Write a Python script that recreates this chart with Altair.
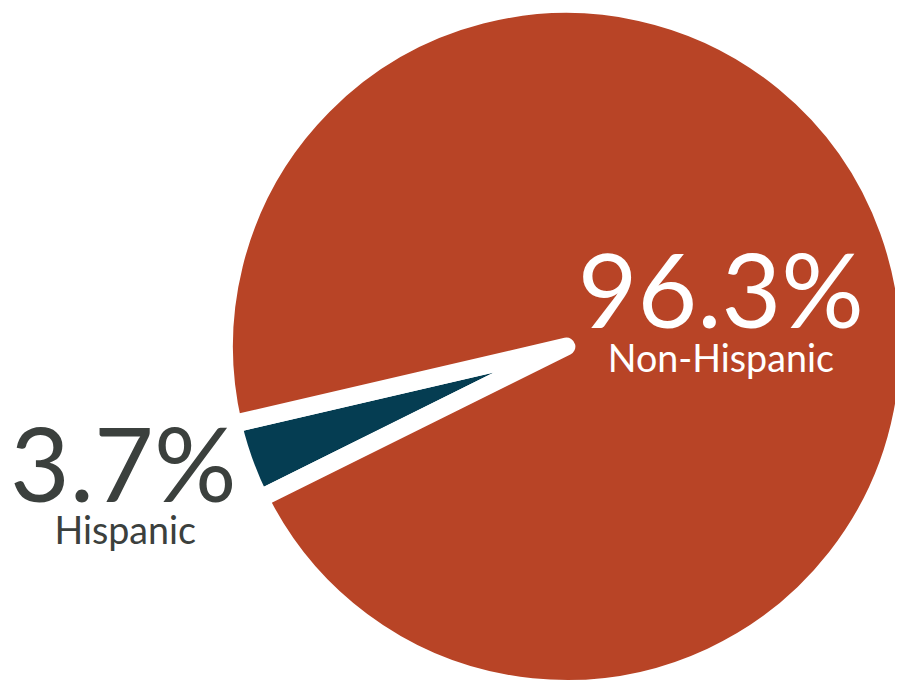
import altair as alt
import pandas as pd
import math

# ---- data ----
groups = ["Hispanic", "Non-Hispanic"]
shares = [3.7, 96.3]
pct_labels = ["3.7%", "96.3%"]
slice_order = [0, 1]
slice_colors = ["#053D52", "#B84426"]

df = pd.DataFrame({
    "group": groups,
    "share": shares,
    "pct": pct_labels,
    "order": slice_order,
})

W, H = 895, 676
CX, CY = 563.5, 338.5      # pie centre in chart coordinates
R = 345.5                  # pie radius
start = math.radians(243.6)
theta_scale = alt.Scale(domain=[0, 100], range=[start, start + 2 * math.pi])

arc = alt.Chart(df).mark_arc(
    radius=R, stroke="white", strokeWidth=18, strokeJoin="round", x=CX, y=CY
).encode(
    theta=alt.Theta("share:Q", stack=True, scale=theta_scale),
    order=alt.Order("order:Q"),
    color=alt.Color("group:N", scale=alt.Scale(domain=groups, range=slice_colors), legend=None),
)

lab = (
    alt.Chart(df)
    .transform_window(cum="sum(share)", sort=[alt.SortField("order")])
    .transform_calculate(mid="datum.cum - datum.share / 2")
)

FONT = "Lato"

def label(group, field, radius, size, color, dx, dy):
    return lab.transform_filter(alt.datum.group == group).mark_text(
        radius=radius, x=CX, y=CY, font=FONT, fontSize=size, color=color,
        align="center", baseline="alphabetic", dx=dx, dy=dy,
    ).encode(
        theta=alt.Theta("mid:Q", scale=theta_scale, stack=None),
        text=alt.Text(field),
    )

hisp_pct = label("Hispanic", "pct:N", 473, 104, "#3B403D", -2, -3)
hisp_name = label("Hispanic", "group:N", 473, 38, "#3B403D", 0, 40)
non_pct = label("Non-Hispanic", "pct:N", 157, 104, "white", 8, 34)
non_name = label("Non-Hispanic", "group:N", 157, 38, "white", 8, 79)

chart = alt.layer(arc, hisp_pct, hisp_name, non_pct, non_name).properties(
    width=W, height=H, autosize=alt.AutoSizeParams(type="none"), padding=0
).configure_view(stroke=None)

chart.save("out.html", embed_options={"renderer": "svg", "actions": False})
